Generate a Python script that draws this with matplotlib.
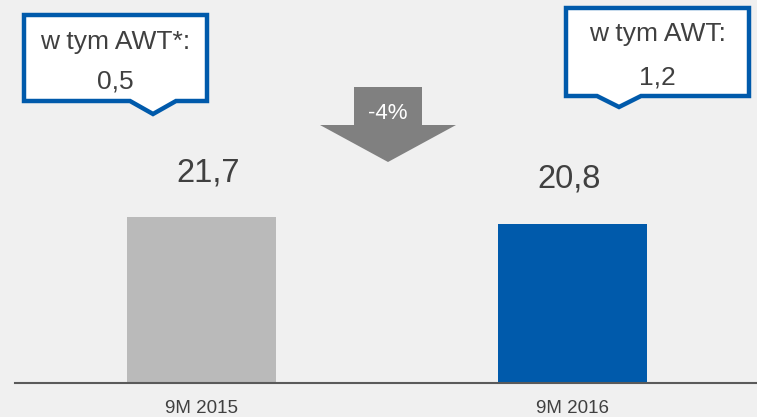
import matplotlib
matplotlib.use('Agg')
import matplotlib.pyplot as plt
from matplotlib.patches import Polygon

plt.rcParams['font.family'] = ['Liberation Sans', 'DejaVu Sans']

# data
categories = ['9M 2015', '9M 2016']
values = [21.7, 20.8]
value_labels = ['21,7', '20,8']
bar_colors = ['#bababa', '#005aab']
awt_titles = ['w tym AWT*:', 'w tym AWT:']
awt_values = ['0,5', '1,2']
change_label = '-4%'

W, H = 757, 417
bg = '#f0f0f0'
txt = '#404040'
blue = '#005aab'

fig = plt.figure(figsize=(W / 100, H / 100), dpi=100, facecolor=bg)

# main bar axes (positioned in pixels)
ax = fig.add_axes([15 / W, 1 - 383 / H, 742 / W, 383 / H])
ax.set_facecolor(bg)
x = range(len(categories))
ax.bar(x, values, width=0.402, color=bar_colors)
ax.set_xlim(-0.503, 1.499)
ax.set_ylim(0, 383 / 7.65)
for s in ['top', 'right', 'left']:
    ax.spines[s].set_visible(False)
ax.spines['bottom'].set_color('#5a5a5a')
ax.spines['bottom'].set_linewidth(1.5)
ax.set_yticks([])
ax.set_xticks(list(x))
ax.set_xticklabels(categories, fontsize=13.5, color=txt)
ax.tick_params(axis='x', length=0, pad=12)
shifts = [5, -2]
for i, v in enumerate(values):
    ax.annotate(value_labels[i], (i, v), xytext=(shifts[i], 32), textcoords='offset points',
                ha='center', va='center', fontsize=23.5, color=txt)

# overlay in pixel coordinates for callouts and arrow
ov = fig.add_axes([0, 0, 1, 1], facecolor='none')
ov.set_xlim(0, W)
ov.set_ylim(H, 0)
ov.axis('off')

def callout(l, r, t, b, pl, pr, tx, ty):
    pts = [(l, t), (r, t), (r, b), (pr, b), (tx, ty), (pl, b), (l, b)]
    ov.add_patch(Polygon(pts, closed=True, facecolor='white', edgecolor=blue,
                         linewidth=3.2, joinstyle='miter'))

callout(24, 207, 15, 101, 130, 176, 153, 114)
callout(566, 749, 8, 96, 597, 641, 619, 107)
ov.text(115, 42, awt_titles[0], ha='center', va='center', fontsize=19, color=txt)
ov.text(115, 81, awt_values[0], ha='center', va='center', fontsize=19, color=txt)
ov.text(657, 34, awt_titles[1], ha='center', va='center', fontsize=19, color=txt)
ov.text(657, 77, awt_values[1], ha='center', va='center', fontsize=19, color=txt)

arrow = [(354, 87), (422, 87), (422, 125), (456, 125), (388, 162), (320, 125), (354, 125)]
ov.add_patch(Polygon(arrow, closed=True, facecolor='#808080', edgecolor='none'))
ov.text(388, 113, change_label, ha='center', va='center', fontsize=16, color='white')

fig.savefig('out.png', dpi=100, facecolor=bg)
